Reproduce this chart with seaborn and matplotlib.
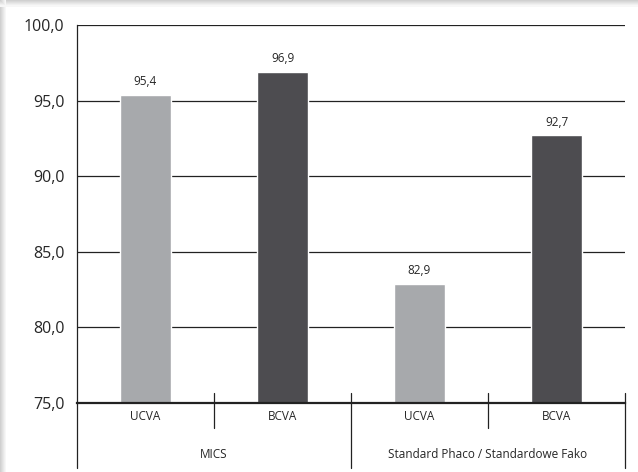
import pandas as pd
import seaborn as sns
import matplotlib.pyplot as plt
from matplotlib.patches import Rectangle

# Data
groups = ['MICS', 'Standard Phaco / Standardowe Fako']
measures = ['UCVA', 'BCVA', 'UCVA', 'BCVA']
values = [95.4, 96.9, 82.9, 92.7]
yticks = [75, 80, 85, 90, 95, 100]

df = pd.DataFrame({'slot': [0, 1, 2, 3], 'measure': measures, 'value': values})

sns.set_style('white')
plt.rcParams['font.family'] = ['Open Sans', 'DejaVu Sans']

fig = plt.figure(figsize=(6.38, 4.72), dpi=100)
fig.patch.set_facecolor('white')

# light shadow strips on top and left edge of the card
for i, c in enumerate(['#d0d0d0', '#d8d8d8', '#e0e0e0', '#e8e8e8', '#f0f0f0', '#f7f7f7']):
    fig.patches.append(Rectangle((i / 638, 0), 1 / 638, 1, transform=fig.transFigure,
                                 facecolor=c, edgecolor='none'))
    fig.patches.append(Rectangle((0, 1 - (i + 2) / 472), 1, 1.5 / 472, transform=fig.transFigure,
                                 facecolor=c, edgecolor='none'))

ax = fig.add_axes([77 / 638, 1 - 403 / 472, 548 / 638, 378 / 472])
sns.barplot(data=df, x='slot', y='value', hue='measure', palette={'UCVA': '#a7a9ac', 'BCVA': '#4d4c50'},
            dodge=False, width=0.37, saturation=1, legend=False, ax=ax)

ax.set_ylim(75, 100)
ax.set_xlim(-0.5, 3.5)
ax.set_yticks(yticks)
ax.set_yticklabels([f'{v:.1f}'.replace('.', ',') for v in yticks], fontsize=11.5)
ax.tick_params(axis='y', length=0, pad=9)
ax.set_xticks([])
ax.set_xlabel('')
ax.set_ylabel('')
for y in yticks[1:]:
    ax.axhline(y, color='#222222', lw=0.9, zorder=0)

for s in ['top', 'right']:
    ax.spines[s].set_visible(False)
ax.spines['left'].set_color('#222222')
ax.spines['left'].set_linewidth(0.9)
ax.spines['bottom'].set_color('#222222')
ax.spines['bottom'].set_linewidth(1.6)

# value labels
for i, v in enumerate(values):
    ax.text(i, v + 0.45, f'{v:.1f}'.replace('.', ','), ha='center', va='bottom', fontsize=8.5)

# category labels and separators
for i, m in enumerate(measures):
    ax.text(i, -0.037, m, transform=ax.get_xaxis_transform(), ha='center', va='center', fontsize=8.5)
for j, g in enumerate(groups):
    ax.text(0.5 + 2 * j, -0.137, g, transform=ax.get_xaxis_transform(), ha='center', va='center', fontsize=8.5)

for x in [0.5, 2.5]:
    ax.plot([x, x], [0.026, -0.066], transform=ax.get_xaxis_transform(), color='#222222', lw=0.9, clip_on=False)
for x in [-0.5, 1.5, 3.5]:
    top = 0 if x == -0.5 else 0.026
    ax.plot([x, x], [top, -0.172], transform=ax.get_xaxis_transform(), color='#222222', lw=0.9, clip_on=False)

plt.savefig('out.png', dpi=100)
